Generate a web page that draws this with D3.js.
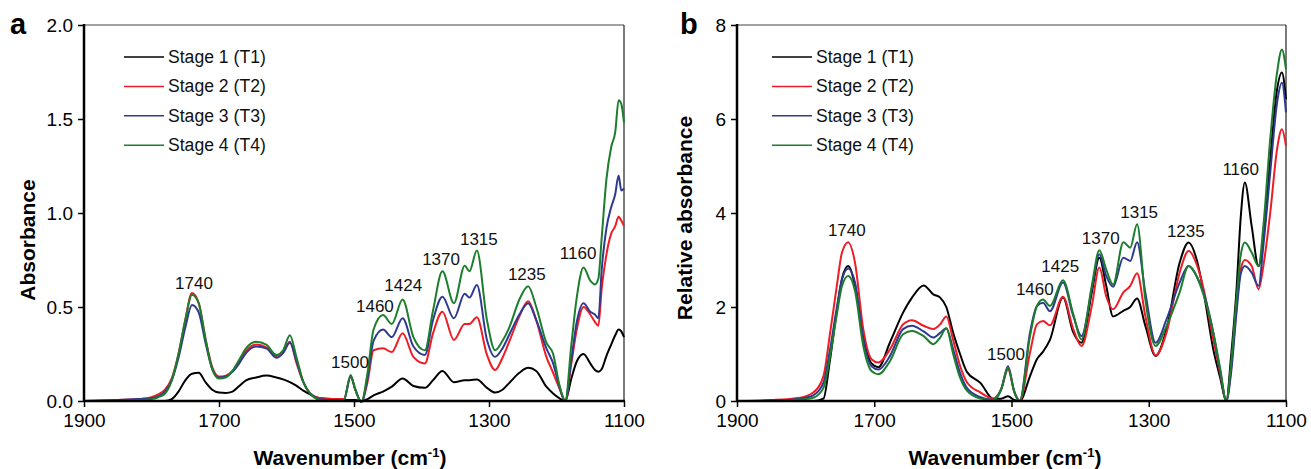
<!DOCTYPE html>
<html>
<head>
<meta charset="utf-8">
<script src="https://cdn.jsdelivr.net/npm/d3@7"></script>
<style>
  html, body { margin: 0; padding: 0; background: #fff; }
  svg { display: block; font-family: "Liberation Sans", Arial, sans-serif; }
</style>
</head>
<body>
<svg id="chart" width="1311" height="469"></svg>
<script>
// ---------- DATA ----------
const seriesNames = ["Stage 1 (T1)", "Stage 2 (T2)", "Stage 3 (T3)", "Stage 4 (T4)"];
const xTicks = [1900, 1700, 1500, 1300, 1100];
const yTicksA = [0, 0.5, 1.0, 1.5, 2.0];
const yTicksB = [0, 2, 4, 6, 8];

// Panel a: absorbance
const wnA = [1900, 1850, 1820, 1800, 1790, 1780, 1770, 1760, 1750, 1740, 1730, 1720, 1710, 1700, 1690, 1680, 1670, 1660, 1645, 1630, 1615, 1605, 1595, 1585, 1575, 1565, 1550, 1530, 1515, 1505, 1498, 1489, 1480, 1471, 1457, 1444, 1428, 1412, 1395, 1383, 1369, 1352, 1336, 1329, 1318, 1303, 1291, 1280, 1269, 1255, 1242, 1230, 1215, 1205, 1196, 1187, 1178, 1170, 1160, 1150, 1143, 1138, 1133, 1126, 1119, 1113, 1108, 1104, 1100];
const a_T1 = [0, 0, 0, 0, 0, 0, 0.01, 0.05, 0.11, 0.145, 0.15, 0.10, 0.06, 0.045, 0.043, 0.05, 0.08, 0.11, 0.125, 0.135, 0.125, 0.115, 0.10, 0.08, 0.055, 0.035, 0.015, 0.01, 0.005, 0.005, 0.005, 0, 0.01, 0.03, 0.05, 0.076, 0.12, 0.08, 0.07, 0.11, 0.16, 0.10, 0.11, 0.11, 0.115, 0.07, 0.045, 0.06, 0.10, 0.15, 0.177, 0.16, 0.076, 0.04, 0.015, 0, 0.12, 0.21, 0.25, 0.20, 0.165, 0.156, 0.17, 0.24, 0.30, 0.35, 0.38, 0.37, 0.34];
const a_T2 = [0, 0.005, 0.01, 0.02, 0.035, 0.06, 0.12, 0.25, 0.43, 0.575, 0.52, 0.33, 0.18, 0.13, 0.135, 0.16, 0.21, 0.265, 0.30, 0.285, 0.24, 0.265, 0.315, 0.20, 0.10, 0.04, 0.015, 0.01, 0.01, 0.13, 0.06, -0.005, 0.10, 0.27, 0.28, 0.26, 0.36, 0.235, 0.20, 0.36, 0.475, 0.325, 0.41, 0.41, 0.445, 0.245, 0.165, 0.23, 0.325, 0.45, 0.53, 0.43, 0.235, 0.15, 0.07, 0, 0.20, 0.38, 0.50, 0.46, 0.42, 0.40, 0.60, 0.78, 0.89, 0.93, 0.98, 0.96, 0.93];
const a_T3 = [0, 0.005, 0.01, 0.015, 0.025, 0.05, 0.11, 0.23, 0.39, 0.51, 0.47, 0.31, 0.17, 0.125, 0.13, 0.155, 0.20, 0.255, 0.29, 0.28, 0.23, 0.255, 0.31, 0.21, 0.10, 0.04, 0.01, 0.005, 0.005, 0.13, 0.06, -0.005, 0.12, 0.32, 0.38, 0.34, 0.44, 0.29, 0.245, 0.43, 0.555, 0.44, 0.57, 0.55, 0.617, 0.325, 0.235, 0.28, 0.36, 0.46, 0.52, 0.43, 0.28, 0.20, 0.08, 0, 0.22, 0.42, 0.52, 0.475, 0.46, 0.44, 0.70, 0.92, 1.03, 1.10, 1.20, 1.12, 1.13];
const a_T4 = [0, 0, 0.005, 0.01, 0.02, 0.04, 0.11, 0.25, 0.43, 0.565, 0.52, 0.33, 0.17, 0.12, 0.125, 0.16, 0.22, 0.28, 0.315, 0.30, 0.245, 0.27, 0.35, 0.23, 0.10, 0.04, 0.005, 0, 0.005, 0.138, 0.06, -0.005, 0.15, 0.38, 0.457, 0.41, 0.54, 0.34, 0.27, 0.48, 0.69, 0.52, 0.72, 0.69, 0.80, 0.43, 0.27, 0.32, 0.40, 0.54, 0.61, 0.50, 0.31, 0.25, 0.09, 0, 0.30, 0.55, 0.71, 0.64, 0.62, 0.65, 0.87, 1.18, 1.35, 1.43, 1.60, 1.58, 1.48];

// Panel b: relative absorbance
const wnB = [1900, 1850, 1808, 1789, 1774, 1765, 1755, 1747, 1738, 1728, 1716, 1704, 1694, 1677, 1658, 1645, 1628, 1614, 1604, 1595, 1585, 1575, 1565, 1545, 1527, 1515, 1505, 1496, 1488, 1473, 1463, 1454, 1444, 1425, 1410, 1398, 1383, 1372, 1362, 1352, 1337, 1327, 1317, 1305, 1290, 1274, 1255, 1242, 1230, 1220, 1206, 1196, 1187, 1180, 1172, 1166, 1160, 1150, 1140, 1133, 1123, 1113, 1106, 1100];
const b_T1 = [0, 0, 0, 0, 0.05, 0.82, 1.88, 2.60, 2.87, 2.45, 1.38, 0.80, 0.72, 1.25, 1.88, 2.20, 2.46, 2.27, 2.20, 2.00, 1.45, 1.00, 0.62, 0.38, 0.05, 0.05, 0.10, 0.02, 0, 0.53, 0.89, 1.05, 1.30, 2.20, 1.46, 1.24, 2.31, 3.05, 2.45, 1.80, 1.92, 2.00, 2.18, 1.60, 0.96, 1.53, 2.94, 3.37, 3.00, 2.31, 1.10, 0.50, 0, 0.96, 2.40, 3.90, 4.65, 3.72, 2.87, 3.44, 5.14, 6.63, 6.99, 6.42];
const b_T2 = [0, 0.02, 0.07, 0.18, 0.53, 1.38, 2.40, 3.16, 3.38, 2.94, 1.53, 0.89, 0.82, 1.10, 1.63, 1.72, 1.60, 1.53, 1.63, 1.80, 1.30, 0.75, 0.40, 0.18, 0.05, 0.25, 0.67, 0.20, 0, 1.03, 1.63, 1.70, 1.61, 2.22, 1.53, 1.17, 2.02, 2.84, 2.23, 1.95, 2.31, 2.45, 2.72, 1.81, 0.97, 1.46, 2.73, 3.19, 2.90, 2.38, 1.31, 0.60, 0, 0.70, 2.00, 2.80, 3.00, 2.87, 2.38, 2.87, 4.00, 5.36, 5.78, 5.43];
const b_T3 = [0, 0.01, 0.05, 0.12, 0.39, 1.05, 1.95, 2.59, 2.82, 2.52, 1.31, 0.74, 0.67, 0.96, 1.53, 1.60, 1.48, 1.35, 1.45, 1.55, 1.10, 0.60, 0.28, 0.08, 0.02, 0.25, 0.74, 0.20, 0, 1.46, 2.02, 2.09, 1.91, 2.52, 1.81, 1.38, 2.38, 3.12, 2.66, 2.43, 3.05, 2.98, 3.38, 2.31, 1.24, 1.74, 2.52, 2.87, 2.65, 2.30, 1.46, 0.65, 0, 0.60, 1.90, 2.70, 2.87, 2.73, 2.45, 3.30, 4.86, 6.35, 6.77, 6.14];
const b_T4 = [0, 0, 0.03, 0.07, 0.28, 0.90, 1.80, 2.45, 2.66, 2.34, 1.17, 0.64, 0.57, 0.85, 1.42, 1.49, 1.38, 1.21, 1.35, 1.55, 1.00, 0.50, 0.22, 0.05, 0.02, 0.25, 0.71, 0.20, 0, 1.38, 2.02, 2.16, 2.02, 2.57, 1.85, 1.31, 2.45, 3.21, 2.80, 2.48, 3.38, 3.26, 3.76, 2.16, 1.17, 1.60, 2.31, 2.87, 2.65, 2.25, 1.46, 0.70, 0, 0.80, 2.20, 3.10, 3.37, 3.16, 2.87, 3.72, 5.57, 6.99, 7.48, 7.06];

// Peak annotations (label, wavenumber anchor, value anchor)
const peaksA = ["1740", "1500", "1460", "1424", "1370", "1315", "1235", "1160"];
const peaksA_wn = [1737, 1506, 1469, 1427, 1371, 1315, 1244, 1168];
const peaksA_val = [0.596, 0.175, 0.473, 0.585, 0.723, 0.83, 0.644, 0.755];
const peaksB = ["1740", "1500", "1460", "1425", "1370", "1315", "1235", "1160"];
const peaksB_wn = [1740, 1508, 1466, 1429, 1370, 1314, 1246, 1166];
const peaksB_val = [3.52, 0.87, 2.25, 2.74, 3.33, 3.89, 3.5, 4.8];

const colors = ["#000000", "#ee1c24", "#2e3a92", "#1c7d2c"];

// ---------- DRAW ----------
const svg = d3.select("#chart");

function panel(opts) {
  const x = d3.scaleLinear().domain([1900, 1100]).range([opts.left, opts.right]);
  const y = d3.scaleLinear().domain(opts.yDomain).range([401, 25]);
  const g = svg.append("g");

  // frame: top and right thin
  g.append("line").attr("x1", opts.left).attr("x2", opts.right).attr("y1", 25).attr("y2", 25)
    .attr("stroke", "#444").attr("stroke-width", 1.2);
  g.append("line").attr("x1", opts.right).attr("x2", opts.right).attr("y1", 25).attr("y2", 401)
    .attr("stroke", "#222").attr("stroke-width", 1.2);

  // lines
  const line = d3.line().x((d, i) => x(opts.wn[i])).y(d => y(d)).curve(d3.curveMonotoneX);
  opts.series.forEach((s, k) => {
    g.append("path").attr("d", line(s)).attr("fill", "none")
      .attr("stroke", colors[k]).attr("stroke-width", 2).attr("stroke-linejoin", "round");
  });

  // axes
  const xAxis = d3.axisBottom(x).tickValues(xTicks).tickSize(6).tickPadding(7).tickFormat(d3.format("d"));
  const gx = g.append("g").attr("transform", "translate(0,401)").call(xAxis);
  gx.select(".domain").remove();
  gx.selectAll(".tick line").attr("stroke", "#000").attr("stroke-width", 1.5);
  gx.selectAll("text").attr("font-size", 19).attr("fill", "#000")
    .attr("font-family", "Liberation Sans, Arial, sans-serif");

  const yAxis = d3.axisLeft(y).tickValues(opts.yTicks).tickSize(6).tickPadding(5).tickFormat(opts.yFormat);
  const gy = g.append("g").attr("transform", `translate(${opts.left},0)`).call(yAxis);
  gy.select(".domain").remove();
  gy.selectAll(".tick line").attr("stroke", "#000").attr("stroke-width", 1.5);
  gy.selectAll("text").attr("font-size", 19).attr("fill", "#000")
    .attr("font-family", "Liberation Sans, Arial, sans-serif");

  // thick left and bottom axes
  g.append("line").attr("x1", opts.left).attr("x2", opts.right + 1).attr("y1", 401).attr("y2", 401)
    .attr("stroke", "#000").attr("stroke-width", 2.5);
  g.append("line").attr("x1", opts.left).attr("x2", opts.left).attr("y1", 24).attr("y2", 402)
    .attr("stroke", "#000").attr("stroke-width", 2.5);

  // peak labels
  opts.peaks.forEach((p, i) => {
    g.append("text").attr("x", x(opts.peakWn[i])).attr("y", y(opts.peakVal[i]))
      .attr("text-anchor", "middle").attr("font-size", 17).attr("fill", "#111").text(p);
  });

  // legend
  seriesNames.forEach((n, k) => {
    const ly = 57 + k * 29.4;
    g.append("line").attr("x1", opts.legendX).attr("x2", opts.legendX + 40).attr("y1", ly).attr("y2", ly)
      .attr("stroke", colors[k]).attr("stroke-width", 1.5);
    g.append("text").attr("x", opts.legendX + 44).attr("y", ly + 6).attr("font-size", 17.6)
      .attr("fill", "#111").text(n);
  });

  // x title
  const xt = g.append("text").attr("x", opts.xTitleX).attr("y", 465).attr("text-anchor", "middle")
    .attr("font-size", 21).attr("font-weight", "bold").attr("fill", "#000");
  xt.append("tspan").text("Wavenumber (cm");
  xt.append("tspan").attr("font-size", 13).attr("dy", -8).text("-1");
  xt.append("tspan").attr("dy", 8).text(")");

  // y title
  g.append("text").attr("transform", `translate(${opts.yTitleX},${opts.yTitleY}) rotate(-90)`)
    .attr("text-anchor", "middle").attr("font-size", 21).attr("font-weight", "bold").attr("fill", "#000")
    .text(opts.yTitle);

  // panel letter
  g.append("text").attr("x", opts.letterX).attr("y", 34).attr("font-size", 29).attr("font-weight", "bold")
    .attr("fill", "#000").text(opts.letter);
}

panel({
  left: 84, right: 624, yDomain: [0, 2], yTicks: yTicksA, yFormat: d3.format(".1f"),
  wn: wnA, series: [a_T1, a_T2, a_T3, a_T4],
  peaks: peaksA, peakWn: peaksA_wn, peakVal: peaksA_val,
  legendX: 124, xTitleX: 350, yTitleX: 35, yTitleY: 240, yTitle: "Absorbance",
  letter: "a", letterX: 10
});

panel({
  left: 737, right: 1286, yDomain: [0, 8], yTicks: yTicksB, yFormat: d3.format("d"),
  wn: wnB, series: [b_T1, b_T2, b_T3, b_T4],
  peaks: peaksB, peakWn: peaksB_wn, peakVal: peaksB_val,
  legendX: 772, xTitleX: 1005, yTitleX: 692, yTitleY: 218, yTitle: "Relative absorbance",
  letter: "b", letterX: 680
});
</script>
</body>
</html>
